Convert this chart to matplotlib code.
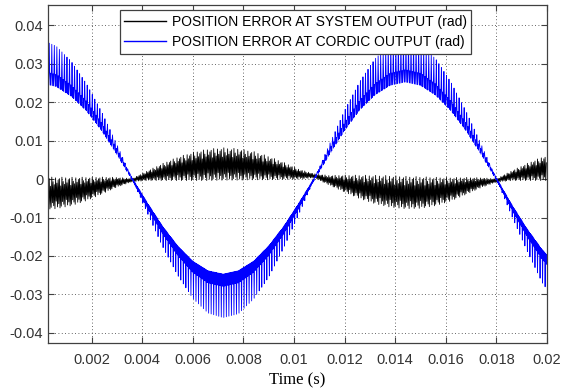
import numpy as np
import matplotlib
matplotlib.use("Agg")
import matplotlib.pyplot as plt

t_key = [0.0, 0.0006, 0.0012, 0.0018, 0.0024, 0.0030, 0.0036, 0.0042, 0.0048, 0.0054,
         0.0060, 0.0066, 0.0072, 0.0078, 0.0084, 0.0090, 0.0096, 0.0102, 0.0108, 0.0114,
         0.0120, 0.0126, 0.0132, 0.0138, 0.0144, 0.0150, 0.0156, 0.0162, 0.0168, 0.0174,
         0.0180, 0.0186, 0.0192, 0.0198, 0.0204]

# CORDIC output error: middle of the dense band, its half width, spike tips
blue_center = [0.0265, 0.0256, 0.0229, 0.0189, 0.0135, 0.0070, 0.0, -0.0068, -0.0132, -0.0186,
               -0.0228, -0.0254, -0.0263, -0.0254, -0.0228, -0.0186, -0.0132, -0.0068, 0.0,
               0.0070, 0.0136, 0.0192, 0.0233, 0.0259, 0.0268, 0.0259, 0.0232, 0.0190, 0.0135,
               0.0070, 0.0, -0.0072, -0.0138, -0.0195, -0.0240]
blue_half = [0.0016, 0.00156, 0.00143, 0.00122, 0.00095, 0.00064, 0.0003, 0.00064, 0.00095,
             0.00122, 0.00143, 0.00156, 0.0016, 0.00156, 0.00143, 0.00122, 0.00095, 0.00064,
             0.0003, 0.00064, 0.00095, 0.00122, 0.00143, 0.00156, 0.0016, 0.00156, 0.00143,
             0.00122, 0.00095, 0.00064, 0.0003, 0.00064, 0.00095, 0.00122, 0.00143]
blue_tip = [0.0362, 0.0345, 0.0305, 0.0247, 0.0174, 0.0090, 0.0, -0.0088, -0.0175, -0.0250,
            -0.0310, -0.0348, -0.0360, -0.0350, -0.0312, -0.0255, -0.0178, -0.0090, 0.0,
            0.0090, 0.0178, 0.0253, 0.0312, 0.0350, 0.0362, 0.0350, 0.0312, 0.0252, 0.0176,
            0.0090, 0.0, -0.0095, -0.0185, -0.0268, -0.0325]

# system output error: middle of the noisy band and its half width
black_center = [-0.0039, -0.0038, -0.0034, -0.0027, -0.0018, -0.0009, -0.0003, 0.0008, 0.0017,
                0.0025, 0.0031, 0.0035, 0.0037, 0.0036, 0.0033, 0.0027, 0.0020, 0.0012, 0.0008,
                -0.0004, -0.0013, -0.0022, -0.0029, -0.0034, -0.0037, -0.0037, -0.0034, -0.0028,
                -0.0019, -0.0010, -0.0004, 0.0008, 0.0017, 0.0025, 0.0031]
black_half = [0.0040, 0.0039, 0.0035, 0.0029, 0.0021, 0.0012, 0.0004, 0.0012, 0.0021, 0.0029,
              0.0035, 0.0039, 0.0040, 0.0039, 0.0035, 0.0029, 0.0021, 0.0012, 0.0005, 0.0012,
              0.0021, 0.0029, 0.0035, 0.0039, 0.0040, 0.0039, 0.0035, 0.0029, 0.0021, 0.0012,
              0.0004, 0.0012, 0.0021, 0.0029, 0.0035]
# shape of the jagged noise, repeated along the trace
black_pattern = [0.9, -0.7, 1.0, -1.0, 0.5, -0.9, 1.1, -0.6, 0.8, -0.8, 0.6, -1.0,
                 1.05, -0.5, 0.7, -0.9]

x_ticks = [0.002, 0.004, 0.006, 0.008, 0.01, 0.012, 0.014, 0.016, 0.018, 0.02]
x_tick_labels = ["0.002", "0.004", "0.006", "0.008", "0.01", "0.012", "0.014",
                 "0.016", "0.018", "0.02"]
y_ticks = [-0.04, -0.03, -0.02, -0.01, 0, 0.01, 0.02, 0.03, 0.04]
y_tick_labels = ["-0.04", "-0.03", "-0.02", "-0.01", "0", "0.01", "0.02", "0.03", "0.04"]

labels = ["POSITION ERROR AT SYSTEM OUTPUT (rad)", "POSITION ERROR AT CORDIC OUTPUT (rad)"]

x_min, x_max = 0.000275, 0.02
y_min, y_max = -0.0426, 0.0452

# blue trace: fast ripple filling the band, one spike every 0.1 ms
n_sub = 6
t_b = np.arange(x_min, x_max, 0.0001 / n_sub)
c_b = np.interp(t_b, t_key, blue_center)
h_b = np.interp(t_b, t_key, blue_half)
tip_b = np.interp(t_b, t_key, blue_tip)
k = np.arange(len(t_b)) % n_sub
y_b = np.where(k % 2 == 0, c_b + h_b, c_b - h_b)
y_b[k == 3] = tip_b[k == 3]

# black trace: jagged noise around the slow curve
t_k = np.arange(x_min, x_max, 0.000025)
c_k = np.interp(t_k, t_key, black_center)
h_k = np.interp(t_k, t_key, black_half)
pat = np.resize(black_pattern, len(t_k))
y_k = c_k + pat * h_k

fig = plt.figure(figsize=(5.69, 3.91), dpi=100)
ax = fig.add_axes([48 / 569, 1 - 343 / 391, 499 / 569, 338 / 391])

ax.plot(t_k, y_k, color="black", linewidth=0.6, label=labels[0])
ax.plot(t_b, y_b, color="#0000ff", linewidth=0.6, label=labels[1])

ax.set_xlim(x_min, x_max)
ax.set_ylim(y_min, y_max)
ax.set_xticks(x_ticks)
ax.set_xticklabels(x_tick_labels)
ax.set_yticks(y_ticks)
ax.set_yticklabels(y_tick_labels)

ax.grid(True, linestyle=(0, (1, 3)), color="#333333", linewidth=0.6)
ax.tick_params(direction="in", top=True, right=True, length=4, width=0.8,
               colors="#404040", labelsize=10.5, labelcolor="#333333")
ax.tick_params(axis="x", pad=7)
for lbl in ax.get_xticklabels() + ax.get_yticklabels():
    lbl.set_family("Liberation Sans")
for sp in ax.spines.values():
    sp.set_color("#404040")
    sp.set_linewidth(0.9)

ax.set_xlabel("Time (s)", family="Liberation Serif", fontsize=12, labelpad=4)

leg = ax.legend(loc="upper center", bbox_to_anchor=(0.496, 0.985), fancybox=False,
                framealpha=1, edgecolor="#404040", handlelength=3.0, handletextpad=0.4,
                labelspacing=0.45, borderpad=0.35, borderaxespad=0,
                prop={"family": "Liberation Sans", "size": 10})
leg.get_frame().set_linewidth(0.9)
for line in leg.get_lines():
    line.set_linewidth(1.0)

fig.savefig("out.png", dpi=100)
